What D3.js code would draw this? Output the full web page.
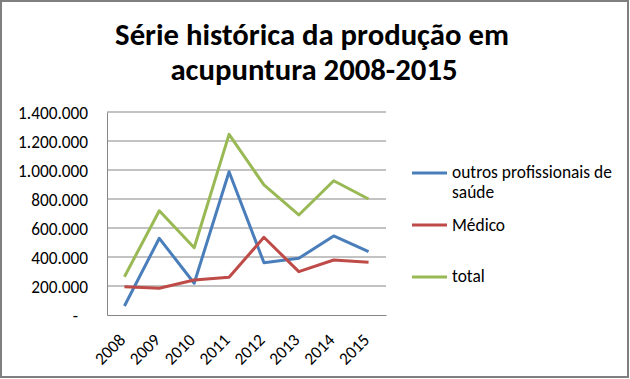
<!DOCTYPE html>
<html>
<head>
<meta charset="utf-8">
<script src="https://cdn.jsdelivr.net/npm/d3@7"></script>
<style>
  body { margin: 0; background: #fff; }
  svg text { font-family: Carlito, Lato, "Open Sans", sans-serif; fill: #000; }
</style>
</head>
<body>
<div id="chart"></div>
<script>
var years = ["2008", "2009", "2010", "2011", "2012", "2013", "2014", "2015"];
var outros = [62000, 529000, 219000, 988000, 361000, 391000, 545000, 437000];
var medico = [195000, 184000, 241000, 260000, 536000, 299000, 379000, 363000];
var total = [264000, 719000, 464000, 1246000, 897000, 690000, 926000, 800000];
var yTicks = [0, 200000, 400000, 600000, 800000, 1000000, 1200000, 1400000];
var seriesNames = ["outros profissionais de saúde", "Médico", "total"];

var series = [
  {name: seriesNames[0], values: outros, color: "#4a7ebb"},
  {name: seriesNames[1], values: medico, color: "#be4b48"},
  {name: seriesNames[2], values: total, color: "#98b954"}
];

var svgWidth = 630;
var svgHeight = 379;

var margin = {top: 112, left: 107};
var width = 279;
var height = 203;

var svg = d3.select("#chart")
  .append("svg")
  .attr("width", svgWidth)
  .attr("height", svgHeight);

// pick a font size so that a text gets the width it has in the original
function fitSize(str, target, weight) {
  var t = svg.append("text").style("font-size", "20px").style("font-weight", weight || "normal").text(str);
  var w = t.node().getComputedTextLength();
  t.remove();
  return 20 * target / w;
}

var titleSize = fitSize("Série histórica da produção em", 394, "bold");
var tickSize = fitSize("1.400.000", 70);
var legendSize = fitSize("outros profissionais de", 160);

// outer frame
svg.append("rect")
  .attr("x", 1)
  .attr("y", 1)
  .attr("width", svgWidth - 3)
  .attr("height", svgHeight - 3)
  .attr("fill", "#fff")
  .attr("stroke", "#7f7f7f")
  .attr("stroke-width", 2);

var title = svg.append("text")
  .attr("text-anchor", "middle")
  .style("font-weight", "bold")
  .style("font-size", titleSize + "px");
title.append("tspan").attr("x", 312).attr("y", 45).text("Série histórica da produção em");
title.append("tspan").attr("x", 314).attr("y", 80).text("acupuntura 2008-2015");

var chartGroup = svg.append("g")
  .attr("transform", `translate(${margin.left}, ${margin.top})`);

var xBand = d3.scaleBand()
  .domain(years)
  .range([0, width]);

var yLinearScale = d3.scaleLinear()
  .domain([0, 1400000])
  .range([height, 0]);

var fmt = d3.formatLocale({decimal: ",", thousands: ".", grouping: [3], currency: ["", ""]}).format(",d");

// gridlines
chartGroup.append("g")
  .selectAll("line")
  .data(yTicks.slice(1))
  .enter()
  .append("line")
  .attr("x1", 0)
  .attr("x2", width)
  .attr("y1", d => yLinearScale(d))
  .attr("y2", d => yLinearScale(d))
  .attr("stroke", "#868686")
  .attr("stroke-width", 1);

var leftAxis = d3.axisLeft(yLinearScale)
  .tickValues(yTicks)
  .tickSize(0)
  .tickPadding(19)
  .tickFormat(d => d === 0 ? "-" : fmt(d));

var yAxis = chartGroup.append("g").call(leftAxis);
yAxis.select(".domain").attr("stroke", "#868686");
yAxis.selectAll("text").style("font-size", tickSize + "px").attr("dy", "0.35em");
yAxis.selectAll("text").filter(d => d === 0).attr("x", -29);

var bottomAxis = d3.axisBottom(xBand).tickSize(0).tickPadding(0);
var xAxis = chartGroup.append("g")
  .attr("transform", `translate(0, ${height})`)
  .call(bottomAxis);
xAxis.select(".domain").attr("stroke", "#868686");
xAxis.selectAll("text")
  .style("font-size", tickSize + "px")
  .attr("text-anchor", "end")
  .attr("dy", null)
  .attr("y", 0)
  .attr("transform", "translate(2, 26) rotate(-45)");

var line = d3.line()
  .x((d, i) => xBand(years[i]) + xBand.bandwidth() / 2)
  .y(d => yLinearScale(d));

chartGroup.selectAll(".series")
  .data(series)
  .enter()
  .append("path")
  .attr("d", d => line(d.values))
  .attr("fill", "none")
  .attr("stroke", d => d.color)
  .attr("stroke-width", 3)
  .attr("stroke-linejoin", "round");

// legend
var legend = svg.append("g");
var legendY = [173, 225, 277];
series.forEach(function(s, i) {
  legend.append("line")
    .attr("x1", 412)
    .attr("x2", 447)
    .attr("y1", legendY[i])
    .attr("y2", legendY[i])
    .attr("stroke", s.color)
    .attr("stroke-width", 3);
});
var t0 = legend.append("text").style("font-size", legendSize + "px");
t0.append("tspan").attr("x", 452).attr("y", 178).text("outros profissionais de");
t0.append("tspan").attr("x", 452).attr("y", 198).text("saúde");
legend.append("text").style("font-size", legendSize + "px").attr("x", 452).attr("y", 231).text(seriesNames[1]);
legend.append("text").style("font-size", legendSize + "px").attr("x", 452).attr("y", 282).text(seriesNames[2]);
</script>
</body>
</html>
